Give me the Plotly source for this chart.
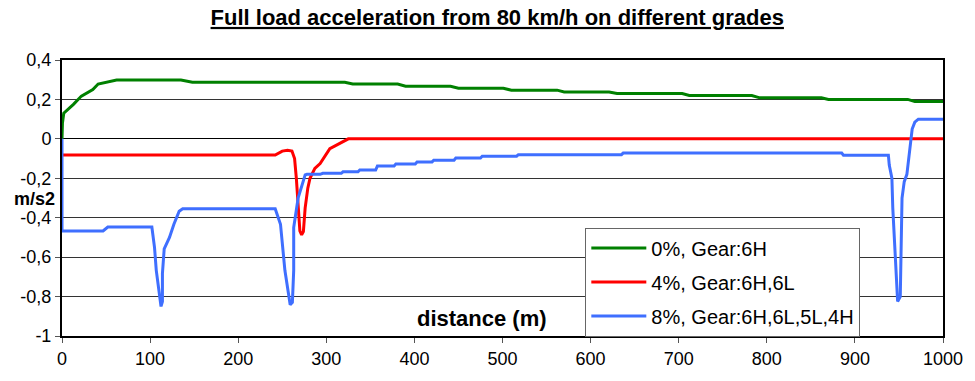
import plotly.graph_objects as go

# 0%, Gear:6H
x_0 = [0, 0.5, 2, 7, 13, 22, 35, 41, 54, 62, 135, 148, 321, 330, 381, 390, 441, 450, 501, 510, 562, 570, 621, 630, 704, 712, 783, 792, 862, 870, 960, 968, 1000]
y_0 = [0, 0.08, 0.13, 0.15, 0.175, 0.217, 0.25, 0.278, 0.292, 0.298, 0.298, 0.287, 0.287, 0.278, 0.278, 0.267, 0.267, 0.257, 0.257, 0.247, 0.247, 0.238, 0.238, 0.23, 0.23, 0.22, 0.22, 0.208, 0.208, 0.2, 0.2, 0.19, 0.19]

# 4%, Gear:6H,6L
x_4 = [0, 242, 250, 256, 261, 264, 266, 268, 270, 272, 274, 276, 279, 281.5, 287, 293, 304, 325, 1000]
y_4 = [-0.082, -0.082, -0.062, -0.058, -0.062, -0.1, -0.2, -0.35, -0.467, -0.487, -0.47, -0.35, -0.25, -0.2, -0.15, -0.125, -0.05, 0, 0]

# 8%, Gear:6H,6L,5L,4H
x_8 = [0, 0, 46.6, 52, 102, 105, 107, 112.4, 114, 114, 116, 122, 127, 133, 137, 242, 248, 253, 259, 261.5, 263, 263, 268, 276, 278, 293, 296, 317, 319, 336, 338, 356, 358, 377, 379, 401, 403, 420, 422, 445, 447, 475, 477, 516, 518, 635, 637, 885, 887, 938, 939, 942, 943, 947, 948.5, 951.5, 953, 953.5, 955, 956, 959, 962, 965, 968, 972, 1000]
y_8 = [0, -0.467, -0.467, -0.447, -0.447, -0.55, -0.667, -0.85, -0.825, -0.683, -0.558, -0.5, -0.433, -0.367, -0.355, -0.355, -0.433, -0.667, -0.842, -0.83, -0.667, -0.45, -0.3, -0.183, -0.18, -0.18, -0.175, -0.175, -0.167, -0.167, -0.158, -0.158, -0.138, -0.138, -0.127, -0.127, -0.117, -0.117, -0.108, -0.108, -0.097, -0.097, -0.088, -0.088, -0.08, -0.08, -0.072, -0.072, -0.083, -0.083, -0.133, -0.2, -0.35, -0.75, -0.825, -0.8, -0.5, -0.3, -0.25, -0.217, -0.18, -0.05, 0.05, 0.085, 0.1, 0.1]

names = ["0%, Gear:6H", "4%, Gear:6H,6L", "8%, Gear:6H,6L,5L,4H"]
colors = ["#008000", "#FF0000", "#3F6FFF"]

x_ticks = [0, 100, 200, 300, 400, 500, 600, 700, 800, 900, 1000]
y_ticks = [0.4, 0.2, 0, -0.2, -0.4, -0.6, -0.8, -1]
y_ticktext = ["0,4", "0,2", "0", "-0,2", "-0,4", "-0,6", "-0,8", "-1"]

title_text = "<b><u>Full load acceleration from 80 km/h on different grades</u></b>"

fig = go.Figure()
for i, (xs, ys, nm, c) in enumerate(zip([x_0, x_4, x_8], [y_0, y_4, y_8], names, colors)):
    fig.add_trace(go.Scatter(x=xs, y=ys, mode="lines", name=nm, legendgroup="g%d" % i,
                             line=dict(color=c, width=3)))

fig.update_layout(
    width=975, height=381,
    margin=dict(l=62, r=24, t=60, b=41),
    paper_bgcolor="white", plot_bgcolor="white",
    font=dict(family="Liberation Sans, Arial", size=18, color="black"),
    title=dict(text=title_text, x=0.51, xanchor="center", y=0.975, yanchor="top",
               font=dict(size=22)),
    showlegend=True,
    legend=dict(x=0.594, y=0.393, xanchor="left", yanchor="top",
                bgcolor="white", bordercolor="#666666", borderwidth=1,
                font=dict(size=20), traceorder="grouped", tracegroupgap=5,
                itemwidth=55),
    xaxis=dict(range=[0, 1000], tickvals=x_ticks, ticks="outside", ticklen=5,
               tickcolor="#555", showgrid=False, zeroline=False,
               showline=True, linecolor="black", linewidth=2, mirror=True,
               tickfont=dict(size=18)),
    yaxis=dict(range=[-1, 0.4], tickvals=y_ticks, ticktext=y_ticktext,
               ticks="outside", ticklen=5, tickcolor="#555",
               showgrid=True, gridcolor="#333333", gridwidth=1,
               zeroline=True, zerolinecolor="black", zerolinewidth=1,
               showline=True, linecolor="black", linewidth=2, mirror=True,
               tickfont=dict(size=18)),
    annotations=[
        dict(text="<b>m/s2</b>", xref="paper", yref="paper", x=-0.031, y=0.497,
             xanchor="center", yanchor="middle", showarrow=False, font=dict(size=18)),
        dict(text="<b>distance (m)</b>", xref="x", yref="y", x=477, y=-0.91,
             xanchor="center", yanchor="middle", showarrow=False, font=dict(size=22)),
    ],
)

fig.write_html("out.html")
